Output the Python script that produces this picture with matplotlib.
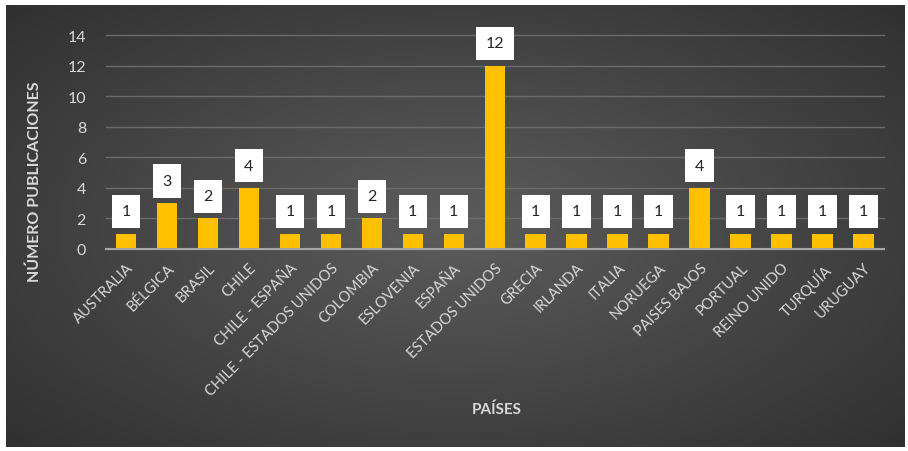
import numpy as np
import matplotlib.pyplot as plt

# Datos
paises = ['AUSTRALIA', 'BÉLGICA', 'BRASIL', 'CHILE', 'CHILE - ESPAÑA',
          'CHILE - ESTADOS UNIDOS', 'COLOMBIA', 'ESLOVENIA', 'ESPAÑA',
          'ESTADOS UNIDOS', 'GRECIA', 'IRLANDA', 'ITALIA', 'NORUEGA',
          'PAISES BAJOS', 'PORTUAL', 'REINO UNIDO', 'TURQUÍA', 'URUGUAY']
publicaciones = [1, 3, 2, 4, 1, 1, 2, 1, 1, 12, 1, 1, 1, 1, 4, 1, 1, 1, 1]
yticks = [0, 2, 4, 6, 8, 10, 12, 14]

plt.rcParams['font.family'] = ['Lato', 'DejaVu Sans']

W, H = 908, 452
fig = plt.figure(figsize=(W / 100, H / 100), dpi=100)
fig.patch.set_facecolor('white')

# Fondo con degradado radial
bg = fig.add_axes([6 / W, 4 / H, 898 / W, 442 / H], zorder=0)
yy, xx = np.mgrid[-1:1:300j, -1:1:600j]
r = np.sqrt((xx * 0.95) ** 2 + (yy * 0.9) ** 2)
grad = np.clip(r / 1.35, 0, 1)
c_center = np.array([0x5c, 0x5c, 0x5c]) / 255
c_edge = np.array([0x2f, 0x2f, 0x2f]) / 255
img = c_center[None, None, :] * (1 - grad[..., None]) + c_edge[None, None, :] * grad[..., None]
bg.imshow(img, aspect='auto', extent=[0, 1, 0, 1])
bg.axis('off')

# Grafico principal
ax = fig.add_axes([105.5 / W, (H - 250) / H, (884 - 105.5) / W, 214 / H], zorder=1)
ax.patch.set_alpha(0)
x = np.arange(len(paises))
barras = ax.bar(x, publicaciones, width=0.5, color='#FFC000', zorder=3)

for barra, valor in zip(barras, publicaciones):
    ax.annotate(f'{valor}', (barra.get_x() + barra.get_width() / 2, barra.get_height()),
                xytext=(0, 16), textcoords='offset points', ha='center', va='center',
                fontsize=11.5, color='#262626', zorder=5,
                bbox=dict(boxstyle='square,pad=0.6', facecolor='white', edgecolor='none'))

ax.set_xlim(-0.5, len(paises) - 0.5)
ax.set_ylim(0, 14)
ax.set_yticks(yticks)
ax.yaxis.grid(True, color='#6b6b6b', linewidth=1, zorder=0)
for gl in ax.get_ygridlines():
    gl.set_clip_on(False)
ax.set_axisbelow(True)
for s in ['top', 'right', 'left']:
    ax.spines[s].set_visible(False)
ax.spines['bottom'].set_color('#a6a6a6')
ax.spines['bottom'].set_linewidth(1.5)
ax.spines['bottom'].set_zorder(4)
ax.tick_params(axis='both', length=0, colors='#d9d9d9', labelsize=10.5)
ax.tick_params(axis='y', pad=14, labelsize=11.5)
ax.set_xticks(x)
ax.set_xticklabels(paises, rotation=45, ha='right', rotation_mode='anchor', fontsize=10.5)
ax.tick_params(axis='x', pad=8)

fig.text(35 / W, 1 - 182 / H, 'NÚMERO PUBLICACIONES', rotation=90, ha='center', va='center',
         fontsize=11.5, fontweight='bold', color='#d9d9d9')
fig.text(497 / W, 1 - 410 / H, 'PAÍSES', ha='center', va='center',
         fontsize=11, fontweight='bold', color='#d9d9d9')

fig.savefig('out.png', dpi=100, facecolor='white')
